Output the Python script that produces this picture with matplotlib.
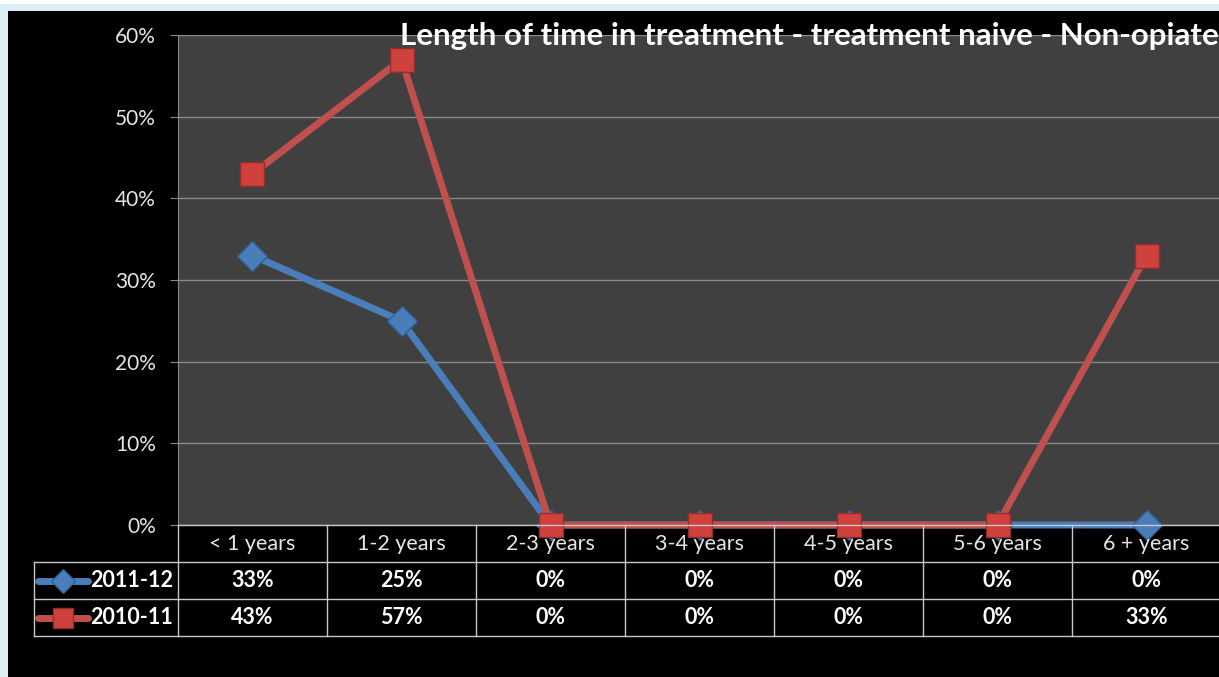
import matplotlib.pyplot as plt
from matplotlib.lines import Line2D
from matplotlib.patches import Rectangle

categories = ["< 1 years", "1-2 years", "2-3 years", "3-4 years",
              "4-5 years", "5-6 years", "6 + years"]
series_names = ["2011-12", "2010-11"]
vals_2011 = [33, 25, 0, 0, 0, 0, 0]
vals_2010 = [43, 57, 0, 0, 0, 0, 33]
yticks = [0, 10, 20, 30, 40, 50, 60]

BLUE = "#4a7ebb"
RED = "#c0504d"
GRID = "#8a8a8a"
TXT = "#e6e6e6"
W, H = 1219, 677

plt.rcParams['font.family'] = ['Lato', 'DejaVu Sans']

fig = plt.figure(figsize=(W / 100, H / 100), dpi=100)
fig.patch.set_facecolor("white")

# light frame and black chart area
fig.patches.append(Rectangle((0, 0), 1, 1 - 4 / H, transform=fig.transFigure,
                             facecolor="#dbeef4", edgecolor="none", zorder=-2))
fig.patches.append(Rectangle((8 / W, 0), 1, 1 - 11 / H, transform=fig.transFigure,
                             facecolor="black", edgecolor="none", zorder=-1))

def fx(px):
    return px / W

def fy(py):
    return 1 - py / H

x0, x1 = 178, 1221
y_top, y_bot = 35, 525
ax = fig.add_axes([fx(x0), fy(y_bot), fx(x1) - fx(x0), fy(y_top) - fy(y_bot)])
ax.set_facecolor("#404040")
n = len(categories)
ax.set_xlim(-0.5, n - 0.5)
ax.set_ylim(0, 60)
ax.set_yticks(yticks)
ax.set_yticklabels([f"{v}%" for v in yticks], color=TXT, fontsize=15)
ax.set_xticks([])
ax.tick_params(axis="y", length=6, color=GRID, pad=10)
for s in ["top", "right", "bottom"]:
    ax.spines[s].set_visible(False)
ax.spines["left"].set_color(GRID)
ax.grid(axis="y", color=GRID, lw=1)
ax.set_axisbelow(True)

xs = list(range(n))
ax.plot(xs, vals_2011, color=BLUE, lw=5, marker="D", ms=15,
        mfc=BLUE, mec="#2f5f96", mew=1, zorder=3, clip_on=False,
        solid_capstyle="round")
ax.plot(xs, vals_2010, color=RED, lw=5, marker="s", ms=17,
        mfc="#d0403c", mec="#8e2f2c", mew=1, zorder=4, clip_on=False,
        solid_capstyle="round")

fig.text(fx(400), fy(36), "Length of time in treatment - treatment naive - Non-opiate",
         color="white", fontsize=22.5, fontweight="bold", va="center", ha="left")

# data table under the axis
col_w = (x1 - x0) / n
rows = [y_bot, 562, 599, 636]
lc = "#c8c8c8"
for i in range(n + 1):
    xv = x0 + i * col_w
    fig.add_artist(Line2D([fx(xv), fx(xv)], [fy(rows[0]), fy(rows[3])],
                          color=lc, lw=1))
fig.add_artist(Line2D([fx(34), fx(34)], [fy(rows[1]), fy(rows[3])], color=lc, lw=1))
fig.add_artist(Line2D([fx(x0), fx(W)], [fy(rows[0]), fy(rows[0])], color=lc, lw=1))
for r in rows[1:]:
    fig.add_artist(Line2D([fx(34), fx(W)], [fy(r), fy(r)], color=lc, lw=1))

for i, c in enumerate(categories):
    cx = x0 + (i + 0.5) * col_w
    fig.text(fx(cx), fy((rows[0] + rows[1]) / 2), c, color=TXT,
             fontsize=15.5, ha="center", va="center")
    for r, vals in enumerate([vals_2011, vals_2010]):
        fig.text(fx(cx), fy((rows[r + 1] + rows[r + 2]) / 2), f"{vals[i]}%",
                 color="white", fontsize=15.5, fontweight="bold",
                 ha="center", va="center")

styles = [(BLUE, "D", 12, BLUE, "#2f5f96"), (RED, "s", 14, "#d0403c", "#8e2f2c")]
for r, (name, st) in enumerate(zip(series_names, styles)):
    yc = fy((rows[r + 1] + rows[r + 2]) / 2)
    col, mk, ms, mfc, mec = st
    fig.add_artist(Line2D([fx(38), fx(88)], [yc, yc], color=col, lw=5,
                          solid_capstyle="round"))
    fig.add_artist(Line2D([fx(63)], [yc], marker=mk, ms=ms, mfc=mfc, mec=mec,
                          color=col, lw=0))
    fig.text(fx(90), yc, name, color="white", fontsize=15.5, fontweight="bold",
             ha="left", va="center")

fig.savefig("out.png", dpi=100, facecolor=fig.get_facecolor())
